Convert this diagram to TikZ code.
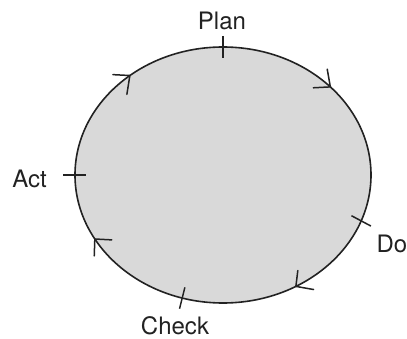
\documentclass[tikz,border=0pt]{standalone}
\usepackage{fontspec}
\setmainfont{TeX Gyre Heros}
\usetikzlibrary{shapes.geometric,calc}
\definecolor{fillgray}{HTML}{D9D9D9}
\definecolor{inkc}{HTML}{222222}
\begin{document}
\begin{tikzpicture}[x=1pt,y=1pt,
  ring/.style={ellipse,draw=inkc,fill=fillgray,line width=1.6pt,minimum width=296pt,minimum height=256pt,inner sep=0pt},
  tickmark/.style={draw=inkc,line width=1.5pt},
  chevron/.style={draw=inkc,line width=1.5pt,line cap=round,line join=miter},
  lab/.style={inner sep=0pt,text=inkc,font=\fontsize{24}{28}\selectfont}]
\useasboundingbox (0,0) rectangle (407,338);
\node[ring] (pdca) at (223,163) {};
% tick positions on the ellipse
\coordinate (tplan)  at ({223+148*cos(90)},{163+128*sin(90)});
\coordinate (tact)   at ({223+148*cos(180)},{163+128*sin(180)});
\coordinate (tdo)    at ({223+148*cos(-21)},{163+128*sin(-21)});
\coordinate (tcheck) at ({223+148*cos(-106)},{163+128*sin(-106)});
% arrow tips on the ellipse
\coordinate (a1) at ({223+148*cos(129)},{163+128*sin(129)});
\coordinate (a2) at ({223+148*cos(43.5)},{163+128*sin(43.5)});
\coordinate (a3) at ({223+148*cos(-60.5)},{163+128*sin(-60.5)});
\coordinate (a4) at ({223+148*cos(-150)},{163+128*sin(-150)});
% ticks
\draw[tickmark] ($(tplan)+(90:11)$) -- ($(tplan)+(-90:11)$);
\draw[tickmark] ($(tact)+(180:12)$) -- ($(tact)+(0:11)$);
\draw[tickmark] ($(tdo)+(-28:11)$) -- ($(tdo)+(152:11)$);
\draw[tickmark] ($(tcheck)+(-104:11)$) -- ($(tcheck)+(76:11)$);
% chevron arrowheads (clockwise)
\draw[chevron] ($(a1)+(177:17)$) -- (a1) -- ($(a1)+(261:19)$);
\draw[chevron] ($(a2)+(183:17)$) -- (a2) -- ($(a2)+(100:18)$);
\draw[chevron] ($(a3)+(83:16)$) -- (a3) -- ($(a3)+(-10:18)$);
\draw[chevron] ($(a4)+(-3:17)$) -- (a4) -- ($(a4)+(-92:17)$);
% labels
\node[lab] (plan)  at (222,317) {Plan};
\node[lab] (act)   at (29.5,159.5) {Act};
\node[lab] (do)    at (392,94) {Do};
\node[lab] (check) at (175,12.5) {Check};
\end{tikzpicture}
\end{document}
